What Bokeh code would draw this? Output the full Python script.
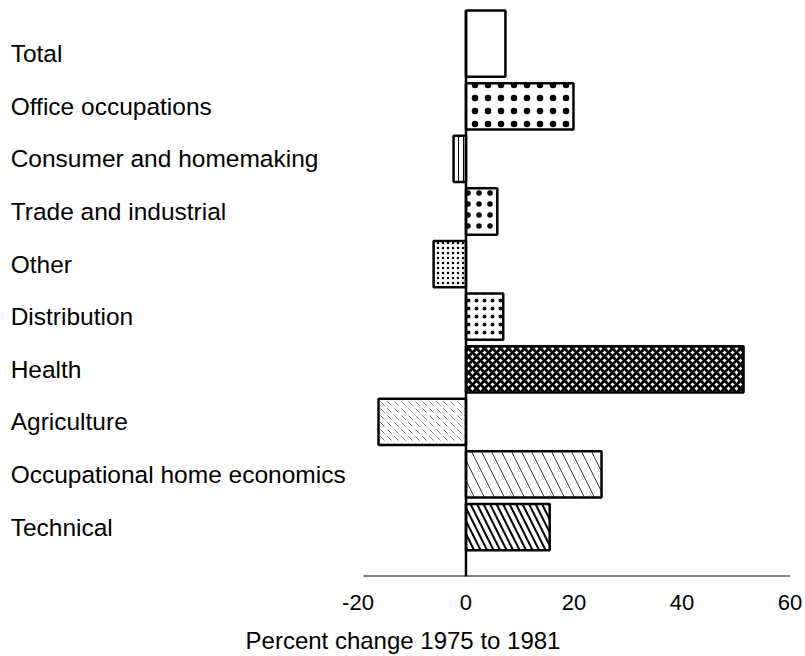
from bokeh.plotting import figure
from bokeh.models import ColumnDataSource, Range1d, FixedTicker
from bokeh.core.properties import value
from bokeh.embed import file_html
from bokeh.resources import INLINE

# ---- data ----
categories = ["Total", "Office occupations", "Consumer and homemaking",
              "Trade and industrial", "Other", "Distribution", "Health",
              "Agriculture", "Occupational home economics", "Technical"]
pct_change = [7.3, 19.9, -2.3, 5.8, -6.0, 6.9, 51.4, -16.2, 25.1, 15.5]
x_ticks = [-20, 0, 20, 40, 60]
x_title = "Percent change 1975 to 1981"

# ---- styles ----
patterns = [" ", ".", "|", ".", ".", ".", "x", "`", "\\", "\\"]
pat_scale = [10, 13, 5, 11, 5, 8, 8, 7, 20, 13]
pat_weight = [1, 1.5, 1, 2, 2, 1.8, 3, 1, 1, 2]
pat_alpha = [1, 1, 1, 1, 1, 1, 1, 0.5, 0.8, 1]

FONT = "Liberation Sans"
n = len(categories)
ypos = [n - i for i in range(n)]           # Total on top
half = 0.44

y0, y1 = 0.06, 10.86
x0, x1 = -84.72, 61.39

lefts = [min(0, v) for v in pct_change]
rights = [max(0, v) for v in pct_change]
bottoms = [y - half for y in ypos]
tops = [y + half for y in ypos]
tops[0] = y1 - 0.04                       # top bar runs to the top edge

src = ColumnDataSource(dict(left=lefts, right=rights, bottom=bottoms, top=tops,
                            pat=patterns, sc=pat_scale, hw=pat_weight, ha=pat_alpha,
                            y=ypos, label=categories,
                            lx=[x0 + 0.4] * n))

p = figure(width=805, height=656, output_backend="svg", toolbar_location=None,
           x_range=Range1d(x0, x1), y_range=Range1d(y0, y1),
           min_border_left=8, min_border_right=8, min_border_top=8,
           min_border_bottom=79, outline_line_color=None)
p.yaxis.visible = False
p.xgrid.visible = False
p.ygrid.visible = False

p.quad(left="left", right="right", bottom="bottom", top="top", source=src,
       fill_color="white", line_color="black", line_width=2.5,
       hatch_pattern="pat", hatch_scale="sc", hatch_weight="hw",
       hatch_alpha="ha", hatch_color="black")

# zero line and axis baseline
p.line([0, 0], [y0, y1 - 0.04], line_color="black", line_width=2.5)
p.line([-19, x_ticks[-1]], [y0, y0], line_color="black", line_width=2)

p.text(x="lx", y="y", text="label", source=src, text_font=value(FONT),
       text_font_size="24.5px", text_baseline="middle", text_align="left",
       text_color="black")

ax = p.xaxis[0]
ax.ticker = FixedTicker(ticks=x_ticks)
ax.major_label_overrides = {t: str(t) for t in x_ticks}
ax.axis_line_color = None
ax.major_tick_line_color = None
ax.minor_tick_line_color = None
ax.major_label_text_font = FONT
ax.major_label_text_font_size = "22px"
ax.major_label_text_color = "black"
ax.major_label_standoff = 12
ax.axis_label = x_title
ax.axis_label_text_font = FONT
ax.axis_label_text_font_size = "24px"
ax.axis_label_text_font_style = "normal"
ax.axis_label_text_color = "black"
ax.axis_label_standoff = 14

open("out.html", "w").write(file_html(p, INLINE))
